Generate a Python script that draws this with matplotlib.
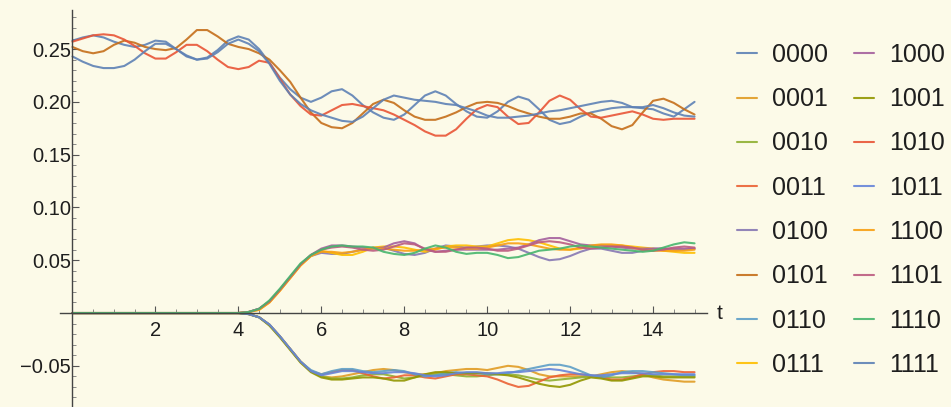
import numpy as np
import matplotlib
matplotlib.use("Agg")
import matplotlib.pyplot as plt
from matplotlib.ticker import MultipleLocator, FixedLocator, FuncFormatter

plt.rcParams['font.family'] = ['Liberation Sans', 'DejaVu Sans']

# time grid (t = 0, 0.25, ..., 15)
t = np.arange(0, 15.001, 0.25)

labels = ["0000", "0001", "0010", "0011", "0100", "0101", "0110", "0111",
          "1000", "1001", "1010", "1011", "1100", "1101", "1110", "1111"]

colors = ["#5E81B5", "#E19C24", "#8FB032", "#EB6235", "#8778B3", "#C56E1A",
          "#5D9EC7", "#FFBF00", "#A5609D", "#929600", "#E95536", "#6685D9",
          "#F89F13", "#BC5B80", "#47B66D", "#5E81B5"]

# ---- upper group (~0.25 -> ~0.19) ----
s0000 = [0.258, 0.261, 0.263, 0.261, 0.257, 0.254, 0.252, 0.254, 0.258, 0.257,
         0.250, 0.243, 0.240, 0.242, 0.249, 0.258, 0.262, 0.259, 0.250, 0.237,
         0.223, 0.212, 0.204, 0.200, 0.204, 0.210, 0.212, 0.206, 0.197, 0.190,
         0.185, 0.183, 0.188, 0.197, 0.206, 0.210, 0.206, 0.198, 0.191, 0.186,
         0.185, 0.191, 0.200, 0.205, 0.202, 0.193, 0.183, 0.179, 0.181, 0.186,
         0.190, 0.192, 0.194, 0.195, 0.195, 0.194, 0.193, 0.189, 0.186, 0.193,
         0.200]
s0101 = [0.252, 0.248, 0.246, 0.248, 0.254, 0.258, 0.256, 0.252, 0.250, 0.249,
         0.251, 0.259, 0.268, 0.268, 0.262, 0.255, 0.252, 0.250, 0.246, 0.240,
         0.230, 0.219, 0.204, 0.190, 0.180, 0.176, 0.175, 0.180, 0.189, 0.198,
         0.202, 0.199, 0.192, 0.186, 0.183, 0.183, 0.186, 0.190, 0.195, 0.199,
         0.200, 0.199, 0.196, 0.192, 0.189, 0.186, 0.184, 0.184, 0.186, 0.189,
         0.189, 0.184, 0.177, 0.174, 0.178, 0.190, 0.201, 0.203, 0.199, 0.193,
         0.188]
s1010 = [0.257, 0.260, 0.263, 0.264, 0.263, 0.259, 0.253, 0.246, 0.241, 0.241,
         0.247, 0.254, 0.254, 0.248, 0.240, 0.233, 0.231, 0.233, 0.239, 0.237,
         0.222, 0.207, 0.196, 0.188, 0.187, 0.192, 0.197, 0.198, 0.196, 0.194,
         0.192, 0.188, 0.183, 0.178, 0.172, 0.168, 0.168, 0.174, 0.184, 0.193,
         0.197, 0.195, 0.186, 0.179, 0.180, 0.190, 0.201, 0.206, 0.202, 0.193,
         0.186, 0.185, 0.187, 0.189, 0.191, 0.188, 0.184, 0.183, 0.184, 0.184,
         0.184]
s1111 = [0.243, 0.238, 0.234, 0.232, 0.232, 0.234, 0.240, 0.248, 0.255, 0.255,
         0.250, 0.244, 0.240, 0.241, 0.247, 0.255, 0.259, 0.255, 0.248, 0.236,
         0.220, 0.207, 0.198, 0.192, 0.188, 0.185, 0.182, 0.181, 0.186, 0.194,
         0.202, 0.206, 0.204, 0.202, 0.201, 0.200, 0.198, 0.197, 0.194, 0.191,
         0.187, 0.185, 0.185, 0.186, 0.187, 0.189, 0.191, 0.192, 0.194, 0.196,
         0.198, 0.200, 0.201, 0.199, 0.195, 0.195, 0.197, 0.194, 0.190, 0.187,
         0.186]

# ---- middle group (0 -> ~+0.06) ----
s0100 = [0, 0, 0, 0, 0, 0, 0, 0, 0, 0, 0, 0, 0, 0, 0, 0,
         0.000, 0.001, 0.004, 0.011, 0.022, 0.034, 0.046, 0.054,
         0.057, 0.056, 0.056, 0.058, 0.060, 0.062, 0.062, 0.059, 0.056, 0.055,
         0.057, 0.061, 0.064, 0.063, 0.062, 0.063, 0.064, 0.064, 0.063, 0.061,
         0.057, 0.053, 0.050, 0.051, 0.054, 0.058, 0.061, 0.061, 0.059, 0.057,
         0.057, 0.059, 0.061, 0.061, 0.060, 0.060, 0.061]
s0111 = [0, 0, 0, 0, 0, 0, 0, 0, 0, 0, 0, 0, 0, 0, 0, 0,
         0.000, 0.001, 0.003, 0.010, 0.021, 0.033, 0.045, 0.054,
         0.059, 0.057, 0.055, 0.055, 0.058, 0.062, 0.063, 0.063, 0.062, 0.060,
         0.058, 0.060, 0.063, 0.064, 0.064, 0.063, 0.063, 0.066, 0.069, 0.070,
         0.069, 0.067, 0.064, 0.061, 0.060, 0.061, 0.063, 0.064, 0.064, 0.064,
         0.063, 0.062, 0.061, 0.059, 0.058, 0.057, 0.057]
s1000 = [0, 0, 0, 0, 0, 0, 0, 0, 0, 0, 0, 0, 0, 0, 0, 0,
         0.000, 0.001, 0.004, 0.011, 0.022, 0.034, 0.046, 0.055,
         0.061, 0.064, 0.064, 0.063, 0.062, 0.061, 0.062, 0.066, 0.068, 0.066,
         0.060, 0.058, 0.059, 0.060, 0.060, 0.060, 0.060, 0.060, 0.061, 0.062,
         0.065, 0.069, 0.071, 0.071, 0.068, 0.065, 0.064, 0.064, 0.063, 0.062,
         0.061, 0.061, 0.061, 0.061, 0.061, 0.061, 0.061]
s1100 = [0, 0, 0, 0, 0, 0, 0, 0, 0, 0, 0, 0, 0, 0, 0, 0,
         0.000, 0.001, 0.003, 0.010, 0.021, 0.033, 0.045, 0.054,
         0.058, 0.058, 0.057, 0.058, 0.060, 0.061, 0.061, 0.060, 0.059, 0.059,
         0.060, 0.061, 0.062, 0.062, 0.061, 0.061, 0.062, 0.064, 0.066, 0.066,
         0.065, 0.063, 0.061, 0.060, 0.060, 0.062, 0.064, 0.065, 0.065, 0.064,
         0.062, 0.060, 0.059, 0.059, 0.059, 0.059, 0.060]
s1101 = [0, 0, 0, 0, 0, 0, 0, 0, 0, 0, 0, 0, 0, 0, 0, 0,
         0.000, 0.001, 0.004, 0.011, 0.022, 0.034, 0.046, 0.055,
         0.060, 0.062, 0.063, 0.062, 0.060, 0.059, 0.060, 0.063, 0.066, 0.065,
         0.061, 0.058, 0.058, 0.060, 0.062, 0.062, 0.061, 0.059, 0.059, 0.061,
         0.064, 0.067, 0.068, 0.067, 0.065, 0.062, 0.061, 0.062, 0.063, 0.063,
         0.062, 0.060, 0.059, 0.060, 0.062, 0.063, 0.062]
s1110 = [0, 0, 0, 0, 0, 0, 0, 0, 0, 0, 0, 0, 0, 0, 0, 0,
         0.000, 0.001, 0.004, 0.012, 0.023, 0.035, 0.047, 0.055,
         0.060, 0.063, 0.064, 0.063, 0.063, 0.062, 0.058, 0.056, 0.055, 0.057,
         0.061, 0.064, 0.062, 0.058, 0.056, 0.057, 0.057, 0.055, 0.052, 0.053,
         0.056, 0.059, 0.060, 0.061, 0.063, 0.064, 0.063, 0.062, 0.061, 0.060,
         0.059, 0.058, 0.059, 0.062, 0.065, 0.067, 0.066]

# ---- lower group (0 -> ~-0.06) ----
s0001 = [0, 0, 0, 0, 0, 0, 0, 0, 0, 0, 0, 0, 0, 0, 0, 0,
         0.000, -0.001, -0.004, -0.011, -0.022, -0.034, -0.046, -0.055,
         -0.060, -0.061, -0.060, -0.058, -0.056, -0.054, -0.053, -0.054, -0.056, -0.058,
         -0.058, -0.057, -0.055, -0.054, -0.053, -0.053, -0.054, -0.052, -0.050, -0.051,
         -0.054, -0.058, -0.060, -0.060, -0.060, -0.060, -0.060, -0.058, -0.056, -0.055,
         -0.056, -0.058, -0.061, -0.063, -0.064, -0.065, -0.065]
s0010 = [0, 0, 0, 0, 0, 0, 0, 0, 0, 0, 0, 0, 0, 0, 0, 0,
         0.000, -0.001, -0.004, -0.011, -0.022, -0.034, -0.046, -0.055,
         -0.060, -0.062, -0.062, -0.061, -0.059, -0.058, -0.058, -0.060, -0.062, -0.061,
         -0.059, -0.058, -0.058, -0.059, -0.060, -0.060, -0.059, -0.058, -0.058, -0.059,
         -0.061, -0.063, -0.064, -0.063, -0.062, -0.061, -0.060, -0.060, -0.061, -0.061,
         -0.060, -0.059, -0.059, -0.060, -0.060, -0.060, -0.060]
s0011 = [0, 0, 0, 0, 0, 0, 0, 0, 0, 0, 0, 0, 0, 0, 0, 0,
         0.000, -0.001, -0.004, -0.011, -0.022, -0.034, -0.046, -0.055,
         -0.058, -0.056, -0.054, -0.054, -0.057, -0.060, -0.062, -0.061, -0.059, -0.059,
         -0.061, -0.062, -0.060, -0.058, -0.058, -0.059, -0.060, -0.063, -0.067, -0.070,
         -0.069, -0.065, -0.061, -0.059, -0.058, -0.058, -0.059, -0.061, -0.063, -0.063,
         -0.061, -0.058, -0.056, -0.055, -0.055, -0.056, -0.056]
s0110 = [0, 0, 0, 0, 0, 0, 0, 0, 0, 0, 0, 0, 0, 0, 0, 0,
         0.000, -0.001, -0.004, -0.011, -0.022, -0.034, -0.046, -0.054,
         -0.058, -0.055, -0.053, -0.053, -0.055, -0.056, -0.055, -0.054, -0.055, -0.058,
         -0.060, -0.059, -0.057, -0.056, -0.057, -0.057, -0.058, -0.058, -0.057, -0.055,
         -0.053, -0.051, -0.049, -0.049, -0.051, -0.055, -0.059, -0.061, -0.059, -0.056,
         -0.055, -0.055, -0.056, -0.057, -0.058, -0.059, -0.059]
s1001 = [0, 0, 0, 0, 0, 0, 0, 0, 0, 0, 0, 0, 0, 0, 0, 0,
         0.000, -0.001, -0.004, -0.012, -0.023, -0.035, -0.047, -0.056,
         -0.061, -0.063, -0.063, -0.062, -0.061, -0.061, -0.062, -0.064, -0.064, -0.061,
         -0.058, -0.056, -0.056, -0.057, -0.057, -0.057, -0.057, -0.058, -0.059, -0.061,
         -0.064, -0.067, -0.069, -0.070, -0.068, -0.064, -0.061, -0.062, -0.064, -0.064,
         -0.062, -0.060, -0.060, -0.061, -0.061, -0.061, -0.061]
s1011 = [0, 0, 0, 0, 0, 0, 0, 0, 0, 0, 0, 0, 0, 0, 0, 0,
         0.000, -0.001, -0.004, -0.011, -0.022, -0.034, -0.046, -0.055,
         -0.059, -0.057, -0.055, -0.055, -0.056, -0.057, -0.057, -0.056, -0.056, -0.057,
         -0.059, -0.060, -0.059, -0.057, -0.056, -0.056, -0.057, -0.057, -0.056, -0.056,
         -0.055, -0.054, -0.053, -0.054, -0.056, -0.058, -0.059, -0.059, -0.058, -0.057,
         -0.057, -0.057, -0.058, -0.058, -0.058, -0.058, -0.058]

series = [s0000, s0001, s0010, s0011, s0100, s0101, s0110, s0111,
          s1000, s1001, s1010, s1011, s1100, s1101, s1110, s1111]

x_ticks = [2, 4, 6, 8, 10, 12, 14]
y_ticks = [-0.05, 0.05, 0.10, 0.15, 0.20, 0.25]

bg = "#FCFAE8"
txt = "#1e1e1e"
W, H = 951, 407
fig = plt.figure(figsize=(W / 100, H / 100), dpi=100)
fig.patch.set_facecolor(bg)
ax = fig.add_axes([60 / W, 0.0, 647 / W, 397 / H])
ax.set_facecolor(bg)

for lab, col, ys in zip(labels, colors, series):
    ax.plot(t, ys, color=col, lw=1.5, alpha=0.9, label=lab,
            solid_capstyle='round', solid_joinstyle='round')

ax.set_xlim(-0.3, 15.3)
ax.set_ylim(-0.089, 0.287)

for side in ['top', 'right']:
    ax.spines[side].set_visible(False)
ax.spines['left'].set_position(('data', 0))
ax.spines['bottom'].set_position(('data', 0))
for side in ['left', 'bottom']:
    ax.spines[side].set_color('#444444')
    ax.spines[side].set_linewidth(1.0)

ax.xaxis.set_major_locator(FixedLocator(x_ticks))
ax.xaxis.set_minor_locator(MultipleLocator(0.5))
ax.yaxis.set_major_locator(FixedLocator(y_ticks))
ax.yaxis.set_minor_locator(MultipleLocator(0.01))
ax.xaxis.set_major_formatter(FuncFormatter(lambda v, p: f"{v:g}"))
ax.yaxis.set_major_formatter(FuncFormatter(lambda v, p: f"{v:.2f}".replace('-', '\u2212')))

ax.tick_params(axis='both', which='major', direction='in', length=5, width=0.8,
               color='#555555', labelsize=14.5, labelcolor=txt)
ax.tick_params(axis='both', which='minor', direction='in', length=3, width=0.6,
               color='#777777')
ax.tick_params(axis='x', which='major', pad=6)
ax.tick_params(axis='y', which='major', pad=1)

ax.text(1.015, 0.0, 't', transform=ax.get_yaxis_transform(), ha='left',
        va='center', fontsize=15, color=txt)

leg = fig.legend(loc='upper left', bbox_to_anchor=(737 / W, 1 - 43 / H), ncol=2,
                 frameon=False, fontsize=18, handlelength=0.8, handletextpad=0.6,
                 columnspacing=1.05, labelspacing=0.81, borderpad=0, borderaxespad=0)
for txtobj in leg.get_texts():
    txtobj.set_color(txt)

fig.savefig("out.png", dpi=100, facecolor=bg)
